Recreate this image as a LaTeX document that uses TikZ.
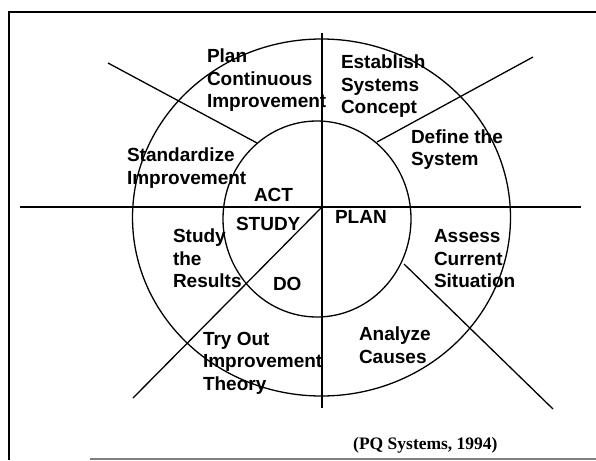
\documentclass[tikz,border=0pt]{standalone}
\usepackage{fontspec}
\setmainfont{Liberation Sans}[BoldFont={Liberation Sans Bold}]
\newfontfamily\capfont{Liberation Serif}[BoldFont={Liberation Serif Bold}]
\begin{document}
\begin{tikzpicture}[x=1pt,y=-1pt,
  lbl/.style={inner sep=0pt,outer sep=0pt,anchor=base west,align=left,
    font=\fontsize{19}{22.5}\selectfont\bfseries},
  ln/.style={line width=1.3pt,black},
  frm/.style={line width=2pt,black}]
\useasboundingbox (0,0) rectangle (596,460);
% frame
\draw[frm] (596,12) -- (9,12) -- (9,460);
\draw[line width=1.5pt,gray] (90,459) -- (596,459);
% circles
\draw[ln] (321.5,217.5) ellipse [x radius=189pt, y radius=178.5pt];
\draw[ln] (317,219) ellipse [x radius=94pt, y radius=98pt];
% coordinates
\coordinate (c) at (322,207);
\coordinate (hl) at (20,207);
\coordinate (hr) at (581,207);
\coordinate (vt) at (322,33);
\coordinate (vb) at (322,408);
\coordinate (ula) at (108,63);
\coordinate (ulb) at (257,143);
\coordinate (ura) at (377,142);
\coordinate (urb) at (533,57);
\coordinate (lra) at (404,264);
\coordinate (lrb) at (553,409);
\coordinate (llb) at (133,398);
% lines
\draw[ln] (hl) -- (hr);
\draw[ln] (vt) -- (vb);
\draw[ln] (ula) -- (ulb);
\draw[ln] (ura) -- (urb);
\draw[ln] (lra) -- (lrb);
\draw[ln] (c) -- (llb);
% labels (anchored at the baseline of the last line)
\node[lbl] (pci) at (207,107.5) {Plan\\Continuous\\Improvement};
\node[lbl] (esc) at (341,113.5) {Establish\\Systems\\Concept};
\node[lbl] (dts) at (411,165.5) {Define the\\System};
\node[lbl] (sti) at (127,184) {Standardize\\Improvement};
\node[lbl] (act) at (254,201) {ACT};
\node[lbl] (study) at (236,230) {STUDY};
\node[lbl] (plan) at (335,223) {PLAN};
\node[lbl] (str) at (173,287.5) {Study\\the\\Results};
\node[lbl] (do) at (273,290) {DO};
\node[lbl] (acs) at (434,287.5) {Assess\\Current\\Situation};
\node[lbl] (anc) at (359,363) {Analyze\\Causes};
\node[lbl] (toi) at (203,390) {Try Out\\Improvement\\Theory};
\node[inner sep=0pt,anchor=base west,font=\capfont\fontsize{17.5}{19}\selectfont\bfseries] (cap) at (353,449) {(PQ Systems, 1994)};
\end{tikzpicture}
\end{document}
